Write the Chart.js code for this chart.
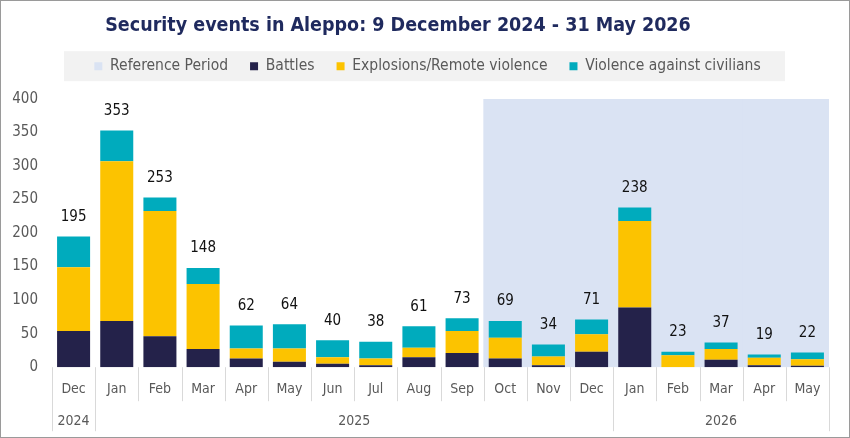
<!DOCTYPE html>
<html><head><meta charset="utf-8">
<script src="https://cdn.jsdelivr.net/npm/chart.js@4"></script>
<style>html,body{margin:0;padding:0;background:#fff}#wrap{width:850px;height:438px;position:relative}</style>
</head><body><div id="wrap"><canvas id="c" width="850" height="438"></canvas></div>
<script>
const months = ['Dec','Jan','Feb','Mar','Apr','May','Jun','Jul','Aug','Sep','Oct','Nov','Dec','Jan','Feb','Mar','Apr','May'];
const years = ['2024','2025','2026'];
const yearMonthCounts = [1, 12, 5];
const battles    = [54, 69, 46, 27, 13,  8,  5,  3, 15, 21, 13,  3, 23,  89,  0, 11,  3,  2];
const explosions = [95,238,187, 97, 15, 20, 10, 10, 14, 33, 31, 13, 26, 129, 18, 16, 11, 10];
const civilians  = [46, 46, 20, 24, 34, 36, 25, 25, 32, 19, 25, 18, 22,  20,  5, 10,  5, 10];
const referencePeriod = [null,null,null,null,null,null,null,null,null,null,400,400,400,400,400,400,400,400];
const yTicks = [0,50,100,150,200,250,300,350,400];

const FONT = "'DejaVu Sans Condensed','Liberation Sans',sans-serif";
const GREY = '#595959';

const decor = {
  id: 'decor',
  afterInit(chart) {
    const lg = chart.legend;
    if (lg && !lg._patched) {
      const orig = lg.fit.bind(lg);
      lg.fit = function () { orig(); this.height += 15; };
      lg._patched = true;
    }
  },
  afterLayout(chart) {
    const t = chart.titleBlock;
    if (t) { const c = 398; const half = (t.right - t.left) / 2; t.left = c - half; t.right = c + half; }
    const lg = chart.legend;
    if (lg) { lg.left += 7; lg.right += 7; }
  },
  beforeDraw(chart) {
    const ctx = chart.ctx;
    const lg = chart.legend;
    if (lg && lg.legendHitBoxes && lg.legendHitBoxes.length) {
      const hb = lg.legendHitBoxes[0];
      const cy = hb.top + hb.height / 2;
      ctx.save();
      ctx.fillStyle = '#F2F2F2';
      ctx.fillRect(64, cy - 15, 721, 30);
      ctx.restore();
    }
  },
  afterDatasetsDraw(chart) {
    const ctx = chart.ctx;
    const meta = chart.getDatasetMeta(3);
    ctx.save();
    ctx.font = '15px ' + FONT;
    ctx.fillStyle = '#111';
    ctx.textAlign = 'center';
    ctx.textBaseline = 'bottom';
    meta.data.forEach((el, i) => {
      const total = battles[i] + explosions[i] + civilians[i];
      ctx.fillText(String(total), el.x, el.y - 12);
    });
    ctx.restore();
  },
  afterDraw(chart) {
    const ctx = chart.ctx;
    const x = chart.scales.x;
    const bottom = chart.chartArea.bottom;
    const w = x.getPixelForValue(1) - x.getPixelForValue(0);
    const edge = i => Math.round(x.getPixelForValue(0) - w / 2 + i * w) + 0.5;
    const yearEdges = [0];
    yearMonthCounts.forEach(n => yearEdges.push(yearEdges[yearEdges.length - 1] + n));
    ctx.save();
    ctx.strokeStyle = '#D9D9D9';
    ctx.lineWidth = 1;
    for (let i = 0; i <= months.length; i++) {
      const full = yearEdges.includes(i);
      ctx.beginPath();
      ctx.moveTo(edge(i), bottom);
      ctx.lineTo(edge(i), bottom + (full ? 64 : 34));
      ctx.stroke();
    }
    ctx.font = '14px ' + FONT;
    ctx.fillStyle = GREY;
    ctx.textAlign = 'center';
    ctx.textBaseline = 'middle';
    years.forEach((yr, k) => {
      const cx = (x.getPixelForValue(0) - w / 2) + (yearEdges[k] + yearEdges[k + 1]) / 2 * w;
      ctx.fillText(yr, cx, bottom + 54);
    });
    ctx.strokeStyle = '#9A9A9A';
    ctx.strokeRect(0.5, 0.5, chart.width - 1, chart.height - 1);
    ctx.restore();
  }
};

new Chart(document.getElementById('c'), {
  type: 'bar',
  data: {
    labels: months,
    datasets: [
      { label: 'Reference Period', data: referencePeriod, backgroundColor: '#DAE3F3', stack: 'ref', grouped: false, order: 1, barPercentage: 1, categoryPercentage: 1 },
      { label: 'Battles', data: battles, backgroundColor: '#24224A', stack: 'main', order: 0 },
      { label: 'Explosions/Remote violence', data: explosions, backgroundColor: '#FCC300', stack: 'main', order: 0 },
      { label: 'Violence against civilians', data: civilians, backgroundColor: '#00ABBD', stack: 'main', order: 0 }
    ]
  },
  options: {
    responsive: false,
    animation: false,
    devicePixelRatio: 1,
    datasets: { bar: { barPercentage: 0.765, categoryPercentage: 1 } },
    layout: { padding: { left: 12, right: 21, top: 0, bottom: 26 } },
    plugins: {
      tooltip: { enabled: false },
      title: {
        display: true,
        text: 'Security events in Aleppo: 9 December 2024 - 31 May 2026',
        color: '#1F2A5E',
        font: { family: FONT, size: 19.5, weight: 'bold' },
        padding: { top: 14, bottom: -1 }
      },
      legend: {
        position: 'top',
        labels: {
          boxWidth: 8, boxHeight: 8,
          color: GREY,
          font: { family: FONT, size: 15.5 },
          padding: 22,
          sort: (a, b) => a.datasetIndex - b.datasetIndex
        }
      }
    },
    scales: {
      x: {
        stacked: true,
        offset: true,
        grid: { display: false, drawTicks: false },
        border: { display: false },
        ticks: { color: GREY, font: { family: FONT, size: 14 }, padding: 14, maxRotation: 0, autoSkip: false }
      },
      y: {
        stacked: true,
        min: 0, max: 400,
        afterBuildTicks: (s) => { s.ticks = yTicks.map(v => ({ value: v })); },
        afterFit: (s) => { s.width = 40; },
        grid: { display: false, drawTicks: false },
        border: { display: false },
        ticks: { color: GREY, font: { family: FONT, size: 15 }, padding: 14 }
      }
    }
  },
  plugins: [decor]
});
</script>
</body></html>
